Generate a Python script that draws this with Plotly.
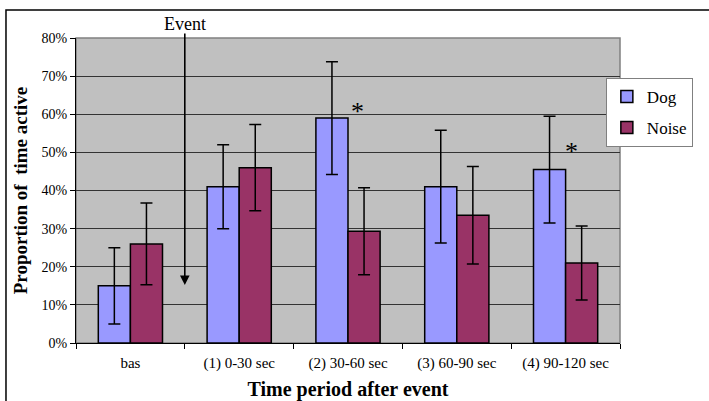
import plotly.graph_objects as go

categories = ["bas", "(1) 0-30 sec", "(2) 30-60 sec", "(3) 60-90 sec", "(4) 90-120 sec"]
dog = [15, 41, 59, 41, 45.5]
dog_err = [10, 11, 14.8, 14.8, 14]
noise = [26, 46, 29.3, 33.5, 21]
noise_err = [10.7, 11.3, 11.4, 12.8, 9.7]
y_ticks = [0, 10, 20, 30, 40, 50, 60, 70, 80]
y_tick_labels = ["0%", "10%", "20%", "30%", "40%", "50%", "60%", "70%", "80%"]

FONT = "Liberation Serif"

fig = go.Figure()
fig.add_trace(go.Bar(
    x=categories, y=dog, name="Dog", legendgroup="a",
    marker=dict(color="#9999FF", line=dict(color="black", width=1.5)),
    error_y=dict(type="data", array=dog_err, color="black", thickness=1.5, width=6),
))
fig.add_trace(go.Bar(
    x=categories, y=noise, name="Noise", legendgroup="b",
    marker=dict(color="#993366", line=dict(color="black", width=1.5)),
    error_y=dict(type="data", array=noise_err, color="black", thickness=1.5, width=6),
))

fig.update_layout(
    width=709, height=401,
    margin=dict(l=76, r=89, t=38, b=58),
    paper_bgcolor="white", plot_bgcolor="#C0C0C0",
    barmode="group", bargap=0.41, bargroupgap=0,
    font=dict(family=FONT, color="black"),
    showlegend=True,
    legend=dict(x=0.974, y=0.869, xanchor="left", yanchor="top",
                bgcolor="white", bordercolor="#808080", borderwidth=1,
                font=dict(size=17, family=FONT), tracegroupgap=6),
)
fig.update_xaxes(
    type="category", showline=True, linecolor="black", linewidth=1,
    ticks="outside", tickson="boundaries", ticklen=5, tickcolor="black",
    tickfont=dict(size=15, family=FONT), showgrid=False, ticklabelstandoff=6,
    title=dict(text="<b>Time period after event</b>", font=dict(size=20, family=FONT), standoff=16),
    automargin=False,
)
fig.update_yaxes(
    range=[0, 80], tickvals=y_ticks, ticktext=y_tick_labels,
    showline=True, linecolor="black", linewidth=1,
    ticks="outside", ticklen=5, tickcolor="black",
    tickfont=dict(size=14, family=FONT),
    showgrid=True, gridcolor="#333333", gridwidth=1, zeroline=False,
    title=dict(text="<b>Proportion of  time active</b>", font=dict(size=19, family=FONT), standoff=8),
    automargin=False,
)

# plot area grey border (top/right)
fig.add_shape(type="rect", xref="paper", yref="paper", x0=0, y0=0, x1=1, y1=1,
              line=dict(color="#808080", width=1.5), layer="below")
# outer frame
fig.add_shape(type="rect", xref="paper", yref="paper", x0=-0.1287, y0=-0.3, x1=1.3, y1=1.0918,
              line=dict(color="black", width=1.5))

# Event arrow
fig.add_annotation(x=0.5, y=15.2, xref="x", yref="y", ax=0.5, ay=81.6, axref="x", ayref="y",
                   text="", showarrow=True, arrowhead=2, arrowsize=1.2, arrowwidth=1.6, arrowcolor="black")
fig.add_annotation(x=0.5, y=1.046, xref="x", yref="paper", text="Event", showarrow=False,
                   font=dict(size=18, family=FONT), yanchor="middle")

# significance asterisks
fig.add_annotation(x=2.083, y=60.8, xref="x", yref="y", text="*", showarrow=False,
                   font=dict(size=26, family=FONT), yanchor="middle")
fig.add_annotation(x=4.055, y=50.2, xref="x", yref="y", text="*", showarrow=False,
                   font=dict(size=26, family=FONT), yanchor="middle")

fig.write_html("out.html", config={"displayModeBar": False},
               post_script="document.body.style.margin='0px';")
